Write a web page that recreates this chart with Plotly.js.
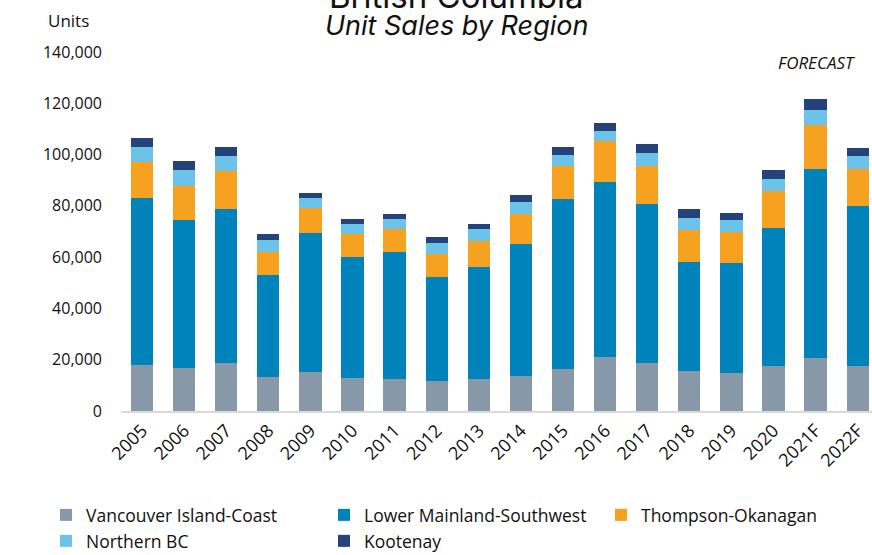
<!DOCTYPE html>
<html>
<head>
<meta charset="utf-8">
<script src="https://cdn.plot.ly/plotly-3.0.1.min.js"></script>
<style>html,body{margin:0;padding:0;background:#fff;}#chart{width:872px;height:555px;}</style>
</head>
<body>
<div id="chart"></div>
<script>
var years = ["2005","2006","2007","2008","2009","2010","2011","2012","2013","2014","2015","2016","2017","2018","2019","2020","2021F","2022F"];
var vancouverIsland = [17900,16800,18600,13300,15200,13000,12500,11700,12500,13700,16400,20900,18700,15500,14700,17400,20700,17400];
var lowerMainland   = [65300,57600,60200,39700,54100,47000,49700,40600,43800,51500,66300,68400,62200,42600,43200,54100,73500,62400];
var thompsonOkanagan= [14050,13400,14700,9100,9900,8900,8600,9100,10000,11600,12900,15800,14800,12400,12100,14400,17400,14700];
var northernBC      = [5700,6100,6000,4700,3900,4000,4100,4300,4600,4800,4300,4100,4900,4800,4400,4400,5700,4900];
var kootenay        = [3400,3500,3400,2200,2100,2100,2100,2100,2200,2500,2900,3100,3400,3300,3000,3500,4200,3300];
var seriesNames = ["Vancouver Island-Coast","Lower Mainland-Southwest","Thompson-Okanagan","Northern BC","Kootenay"];
var yTicks = [0,20000,40000,60000,80000,100000,120000,140000];

var colors = ["#8799A8","#0082BA","#F6A11F","#6CC3EA","#26427B"];
var seriesData = [vancouverIsland, lowerMainland, thompsonOkanagan, northernBC, kootenay];
var legendIds = ["legend","legend2","legend3","legend4","legend5"];
// legend cell positions (left x of item, centre y), in container pixels
var legendX = [46, 324, 601, 46, 324];
var legendY = [515, 515, 515, 541, 541];

var traces = seriesData.map(function(vals, i){
  return {
    type: "bar",
    name: seriesNames[i],
    x: years,
    y: vals,
    marker: {color: colors[i], line: {width: 0}},
    legend: legendIds[i],
    hoverinfo: "x+y+name"
  };
});

var baseFont = {family: "Open Sans, sans-serif", size: 16, color: "#111"};

var layout = {
  width: 872, height: 555,
  margin: {l: 121, r: 0, t: 52, b: 144},
  paper_bgcolor: "#fff", plot_bgcolor: "#fff",
  barmode: "stack",
  bargap: 0.47,
  font: baseFont,
  showlegend: true,
  xaxis: {
    type: "category",
    range: [-0.5, 17.34],
    tickangle: -45,
    tickfont: {family: "Open Sans, sans-serif", size: 18, color: "#111"},
    showline: true, linecolor: "#d9d9d9", linewidth: 2,
    ticks: "", showgrid: false, zeroline: false,
    fixedrange: true
  },
  yaxis: {
    range: [0, 140000],
    tickvals: yTicks,
    tickformat: ",d",
    tickfont: {family: "Open Sans, sans-serif", size: 16, color: "#111"},
    showline: false, showgrid: false, zeroline: false,
    ticks: "", ticklabelstandoff: 18,
    fixedrange: true
  },
  annotations: [
    {text: "British Columbia", xref: "paper", yref: "paper", x: (456-121)/751, y: (411+4)/359, xanchor: "center", yanchor: "middle", showarrow: false, font: {family: "Inter, sans-serif", size: 33, color: "#111"}},
    {text: "<i>Unit Sales by Region</i>", xref: "paper", yref: "paper", x: (456-121)/751, y: (411-25)/359, xanchor: "center", yanchor: "middle", showarrow: false, font: {family: "Inter, sans-serif", size: 27, color: "#111"}},
    {text: "Units", xref: "paper", yref: "paper", x: (68-121)/751, y: (411-20)/359, xanchor: "center", yanchor: "middle", showarrow: false, font: {family: "Open Sans, sans-serif", size: 17, color: "#111"}},
    {text: "<i>FORECAST</i>", xref: "paper", yref: "paper", x: (816-121)/751, y: (411-63)/359, xanchor: "center", yanchor: "middle", showarrow: false, font: {family: "Open Sans, sans-serif", size: 17, color: "#111"}}
  ]
};

legendIds.forEach(function(id, i){
  layout[id] = {
    orientation: "h",
    xref: "container", yref: "container",
    x: legendX[i] / 872, y: 1 - legendY[i] / 555,
    xanchor: "left", yanchor: "middle",
    font: {family: "Open Sans, sans-serif", size: 17.5, color: "#111"},
    itemclick: false,
    bgcolor: "rgba(0,0,0,0)"
  };
});

Plotly.newPlot("chart", traces, layout, {displayModeBar: false, staticPlot: true});
</script>
</body>
</html>
